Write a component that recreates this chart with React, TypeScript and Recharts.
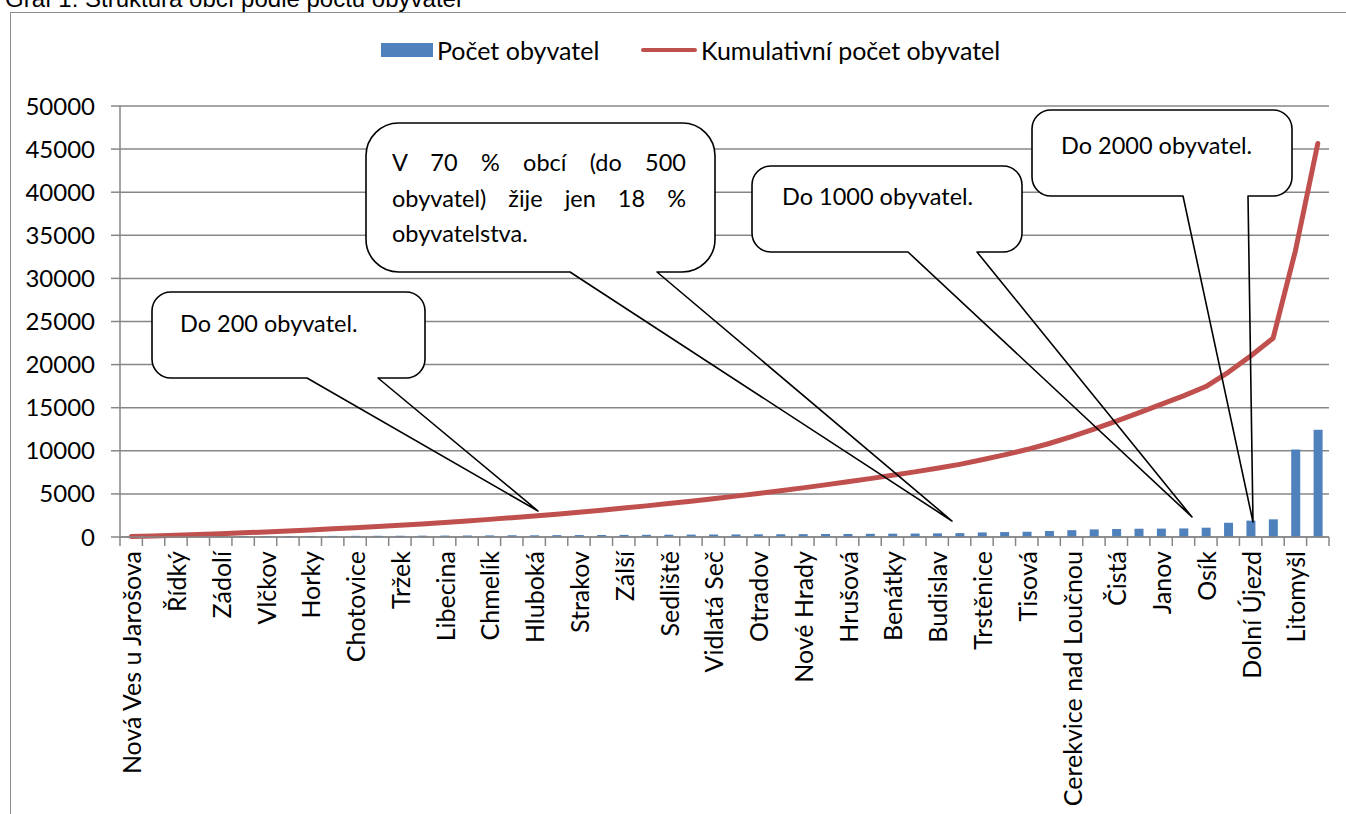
import {
  ComposedChart,
  Bar,
  Line,
  XAxis,
  YAxis,
  CartesianGrid,
  Legend,
} from "recharts";

// obce seřazené podle počtu obyvatel (každý druhý název je na ose skrytý)
const municipalities = [
  "Nová Ves u Jarošova", "Příluka", "Řídký", "Bohuňovice", "Zádolí", "Morašice",
  "Vlčkov", "Suchá Lhota", "Horky", "Pustá Rybná", "Chotovice", "Desná",
  "Tržek", "Makov", "Libecina", "Mikuleč", "Chmelík", "Újezdec",
  "Hluboká", "Němčice", "Strakov", "Poříčí u Litomyšle", "Zálší", "Sebranice",
  "Sedliště", "Pustá Kamenice", "Vidlatá Seč", "Přívrat", "Otradov", "Jiříkov",
  "Nové Hrady", "Lažany", "Hrušová", "Kamenec", "Benátky", "Zrnětín",
  "Budislav", "Mladějov", "Trstěnice", "Bohuslavice", "Tisová", "Oucmanice",
  "Cerekvice nad Loučnou", "Javorník", "Čistá", "Dlouhá Loučka", "Janov", "Lubná",
  "Osík", "Sloupnice", "Dolní Újezd", "Dolní Čermná", "Litomyšl", "Vysoké Mýto",
];

const population = [
  55, 70, 78, 85, 92, 100, 105, 112, 120, 128, 135, 140,
  145, 155, 165, 175, 185, 192, 198, 215, 225, 235, 245, 255,
  265, 275, 290, 300, 310, 320, 330, 345, 355, 370, 385, 400,
  420, 450, 530, 570, 620, 700, 790, 880, 930, 960, 975, 995,
  1080, 1650, 1900, 2050, 10150, 12450,
];

const cumulative = [
  55, 125, 203, 288, 380, 480, 585, 697, 817, 945, 1080, 1220,
  1365, 1520, 1685, 1860, 2045, 2237, 2435, 2650, 2875, 3110, 3355, 3610,
  3875, 4150, 4440, 4740, 5050, 5370, 5700, 6045, 6400, 6770, 7155, 7555,
  7975, 8425, 8955, 9525, 10145, 10845, 11635, 12515, 13445, 14405, 15380, 16375,
  17455, 19105, 21005, 23055, 33205, 45655,
];

const yTicks = [0, 5000, 10000, 15000, 20000, 25000, 30000, 35000, 40000, 45000, 50000];

const data = municipalities.map((name, i) => ({
  name,
  pocet: population[i],
  kumulativ: cumulative[i],
}));

const GRID = "#878787";
const FONT = "Lato, 'Open Sans', sans-serif";

function CategoryTick(props: any) {
  const { x, y, payload, index } = props;
  const step = props.width ? props.width / municipalities.length : 22.39;
  const left = x - step / 2;
  const top = y - 8;
  return (
    <g>
      <line x1={left} y1={top} x2={left} y2={top + 9} stroke={GRID} strokeWidth={1.5} />
      {index === municipalities.length - 1 && (
        <line x1={left + step} y1={top} x2={left + step} y2={top + 9} stroke={GRID} strokeWidth={1.5} />
      )}
      {index % 2 === 0 && (
        <text
          x={x}
          y={top + 14}
          transform={`rotate(-90, ${x}, ${top + 14})`}
          textAnchor="end"
          dominantBaseline="central"
          fontFamily={FONT}
          fontSize={25}
          fill="#000"
        >
          {payload.value}
        </text>
      )}
    </g>
  );
}

function LegendBox() {
  return (
    <div style={{ position: "relative", height: 34, fontFamily: FONT, fontSize: 25, color: "#000" }}>
      <div style={{ position: "absolute", left: 0, top: 9, width: 52, height: 14, background: "#4F81BD" }} />
      <div style={{ position: "absolute", left: 56, top: 0, lineHeight: "32px", whiteSpace: "nowrap" }}>
        Počet obyvatel
      </div>
      <div style={{ position: "absolute", left: 260, top: 14, width: 56, height: 4, borderRadius: 2, background: "#C0504D" }} />
      <div style={{ position: "absolute", left: 320, top: 0, lineHeight: "32px", whiteSpace: "nowrap" }}>
        Kumulativní počet obyvatel
      </div>
    </div>
  );
}

type Callout = {
  x: number; y: number; w: number; h: number;
  b1: number; b2: number; tipX: number; tipY: number;
};

function calloutOutline(c: Callout) {
  const r = Math.min(c.w, c.h) * 0.22;
  const R = c.x + c.w;
  const B = c.y + c.h;
  return [
    `M ${c.x + r} ${c.y}`,
    `H ${R - r}`,
    `A ${r} ${r} 0 0 1 ${R} ${c.y + r}`,
    `V ${B - r}`,
    `A ${r} ${r} 0 0 1 ${R - r} ${B}`,
    `H ${c.b2}`,
    `L ${c.tipX} ${c.tipY}`,
    `L ${c.b1} ${B}`,
    `H ${c.x + r}`,
    `A ${r} ${r} 0 0 1 ${c.x} ${B - r}`,
    `V ${c.y + r}`,
    `A ${r} ${r} 0 0 1 ${c.x + r} ${c.y}`,
  ].join(" ");
}

const callouts: Callout[] = [
  { x: 152, y: 292, w: 273, h: 86, b1: 307, b2: 378, tipX: 538, tipY: 511 },
  { x: 366, y: 123, w: 349, h: 149, b1: 570, b2: 657, tipX: 952, tipY: 521 },
  { x: 752, y: 166, w: 270, h: 86, b1: 908, b2: 977, tipX: 1192, tipY: 517 },
  { x: 1032, y: 110, w: 260, h: 86, b1: 1183, b2: 1248, tipX: 1253, tipY: 522 },
];

const textStyle: React.CSSProperties = {
  position: "absolute",
  fontFamily: FONT,
  fontSize: 23.5,
  color: "#000",
  whiteSpace: "nowrap",
  lineHeight: "36px",
};

export default function App() {
  return (
    <div style={{ position: "absolute", left: 0, top: 0, width: 1346, height: 814, overflow: "hidden", background: "#fff" }}>
      <div
        style={{
          position: "absolute",
          left: 5,
          top: -13,
          fontFamily: "'Liberation Sans', Arial, sans-serif",
          fontSize: 24,
          lineHeight: "24px",
          whiteSpace: "nowrap",
        }}
      >
        Graf 1: Struktura obcí podle počtu obyvatel
      </div>
      <div
        style={{
          position: "absolute",
          left: 10,
          top: 12,
          width: 1400,
          height: 900,
          border: "1.5px solid #8c8c8c",
        }}
      />
      <div style={{ position: "absolute", left: 0, top: 0 }}>
        <ComposedChart
          width={1346}
          height={814}
          data={data}
          margin={{ top: 106, right: 17, bottom: 7, left: 0 }}
          barCategoryGap={0}
        >
          <CartesianGrid vertical={false} stroke={GRID} strokeWidth={1.5} />
          <XAxis
            dataKey="name"
            interval={0}
            height={270}
            axisLine={{ stroke: GRID, strokeWidth: 1.5 }}
            tickLine={false}
            tick={<CategoryTick />}
          />
          <YAxis
            width={120}
            domain={[0, 50000]}
            ticks={yTicks}
            interval={0}
            axisLine={{ stroke: GRID, strokeWidth: 1.5 }}
            tickLine={{ stroke: GRID, strokeWidth: 1.5 }}
            tickSize={9}
            tickMargin={16}
            tick={{ fontFamily: FONT, fontSize: 24, fill: "#000" }}
          />
          <Legend
            layout="horizontal"
            verticalAlign="middle"
            align="center"
            wrapperStyle={{ top: 34, left: 381, width: 720, height: 34 }}
            content={() => <LegendBox />}
          />
          <Bar
            dataKey="pocet"
            name="Počet obyvatel"
            fill="#4F81BD"
            barSize={9}
            isAnimationActive={false}
          />
          <Line
            type="linear"
            dataKey="kumulativ"
            name="Kumulativní počet obyvatel"
            stroke="#C0504D"
            strokeWidth={5}
            strokeLinecap="round"
            strokeLinejoin="round"
            dot={false}
            activeDot={false}
            isAnimationActive={false}
          />
        </ComposedChart>
      </div>
      <svg
        width={1346}
        height={814}
        style={{ position: "absolute", left: 0, top: 0, pointerEvents: "none" }}
      >
        {callouts.map((c, i) => (
          <g key={i}>
            <rect x={c.x} y={c.y} width={c.w} height={c.h} rx={Math.min(c.w, c.h) * 0.22} fill="#fff" />
            <path d={calloutOutline(c)} fill="none" stroke="#000" strokeWidth={1.6} strokeLinejoin="round" />
          </g>
        ))}
      </svg>
      <div style={{ ...textStyle, left: 180, top: 305 }}>Do 200 obyvatel.</div>
      <div
        style={{
          ...textStyle,
          left: 392,
          top: 145,
          width: 294,
          whiteSpace: "normal",
          textAlign: "justify",
          lineHeight: "35.5px",
        }}
      >
        V 70 % obcí (do 500 obyvatel) žije jen 18 % obyvatelstva.
      </div>
      <div style={{ ...textStyle, left: 782, top: 178 }}>Do 1000 obyvatel.</div>
      <div style={{ ...textStyle, left: 1061, top: 127 }}>Do 2000 obyvatel.</div>
    </div>
  );
}
